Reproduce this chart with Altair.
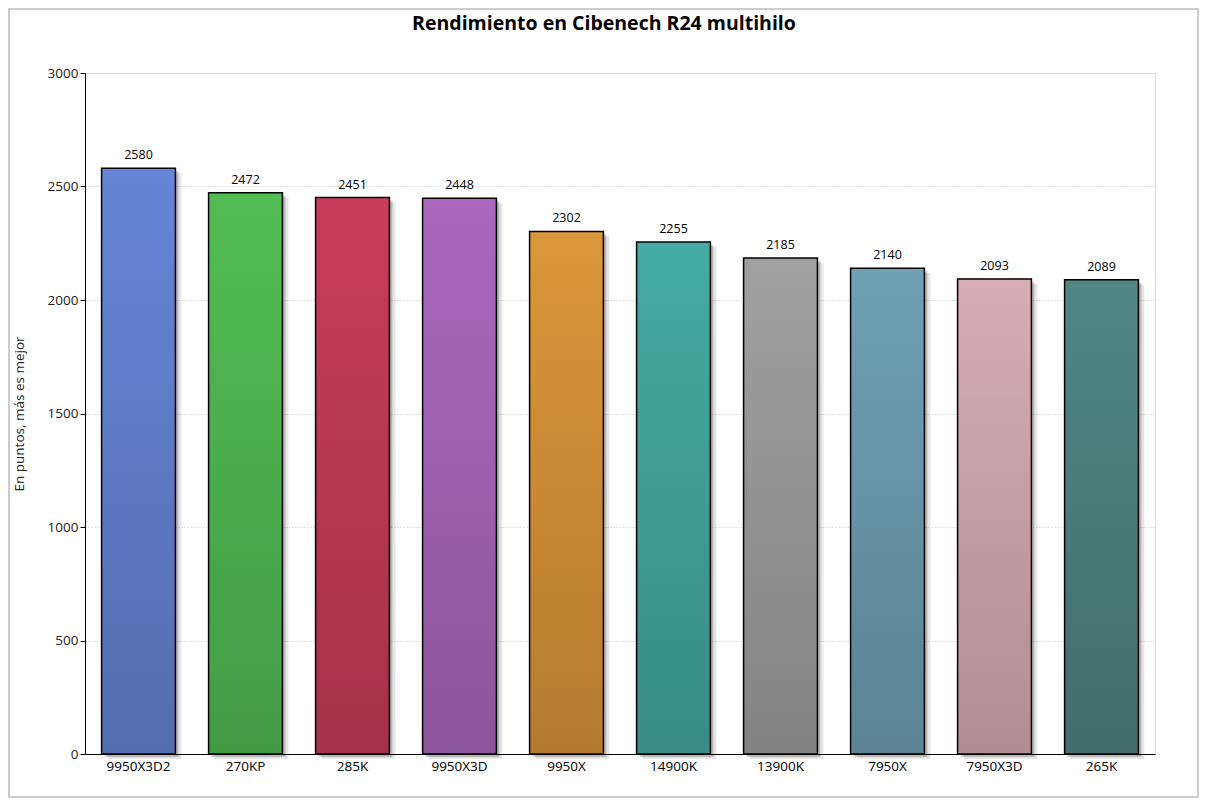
import pandas as pd
import altair as alt

# CPUs and Cinebench R24 multi-thread scores
cpus = ['9950X3D2', '270KP', '285K', '9950X3D', '9950X',
        '14900K', '13900K', '7950X', '7950X3D', '265K']
scores = [2580, 2472, 2451, 2448, 2302, 2255, 2185, 2140, 2093, 2089]
colors = ['#6685d6', '#52bd54', '#c83d5a', '#ab68be', '#dc963a',
          '#45aaa4', '#a0a0a0', '#6fa0b4', '#d8acb4', '#508684']
y_ticks = [0, 500, 1000, 1500, 2000, 2500, 3000]

df = pd.DataFrame({'CPU': cpus, 'Puntos': scores})

FONT = 'Open Sans'

x_enc = alt.X('CPU:N', sort=cpus, title=None,
              scale=alt.Scale(paddingInner=0.31, paddingOuter=0.155),
              axis=alt.Axis(labelAngle=0, ticks=False, domainColor='black',
                            domainWidth=1.2, labelColor='black', labelFontSize=13.5,
                            labelPadding=5, grid=False))
y_enc = alt.Y('Puntos:Q', title='En puntos, más es mejor',
              scale=alt.Scale(domain=[0, 3000], nice=False),
              axis=alt.Axis(values=y_ticks, format='d', grid=True, gridDash=[1, 2],
                            gridColor='#c4c4c4', domainColor='black',
                            tickColor='black', tickSize=5, labelColor='#222222',
                            labelFontSize=13.5, titleFontSize=13.5,
                            titleFontWeight='normal', titleColor='#222222',
                            titlePadding=21, labelPadding=2))

base = alt.Chart(df).encode(x=x_enc, y=y_enc)

# soft drop shadow, two offset passes
shadow1 = base.mark_bar(color='black', opacity=0.2, xOffset=3, yOffset=3,
                        x2Offset=3, y2Offset=3)
shadow2 = base.mark_bar(color='black', opacity=0.1, xOffset=6, yOffset=5,
                        x2Offset=6, y2Offset=5)

bars = base.mark_bar().encode(
    color=alt.Color('CPU:N', scale=alt.Scale(domain=cpus, range=colors), legend=None)
)

shade = base.mark_bar(
    color=alt.Gradient(gradient='linear', x1=0, x2=0, y1=0, y2=1,
                       stops=[alt.GradientStop(offset=0, color='rgba(0,0,0,0)'),
                              alt.GradientStop(offset=1, color='rgba(0,0,0,0.18)')]),
    stroke='black', strokeWidth=1.5
)

labels = base.mark_text(baseline='bottom', dy=-6, fontSize=12.5, color='black',
                        font=FONT).encode(text='Puntos:Q')

frame = alt.Chart(df).mark_rect(filled=False, stroke='#cccccc', strokeWidth=1.5,
                                clip=False).encode(
    x=alt.value(-76), x2=alt.value(1113), y=alt.value(-64), y2=alt.value(724)
)

chart = alt.layer(frame, shadow2, shadow1, bars, shade, labels).properties(
    width=1070, height=681,
    autosize=alt.AutoSizeParams(type='none'),
    padding={'left': 77, 'top': 65, 'right': 44, 'bottom': 44},
    title=alt.TitleParams('Rendimiento en Cibenech R24 multihilo', fontSize=19.5,
                          fontWeight='bold', font=FONT, color='black',
                          anchor='middle', offset=-26, dx=-16)
).configure_view(stroke=None).configure(font=FONT)

chart.save("out.html", embed_options={"renderer": "svg", "actions": False})
